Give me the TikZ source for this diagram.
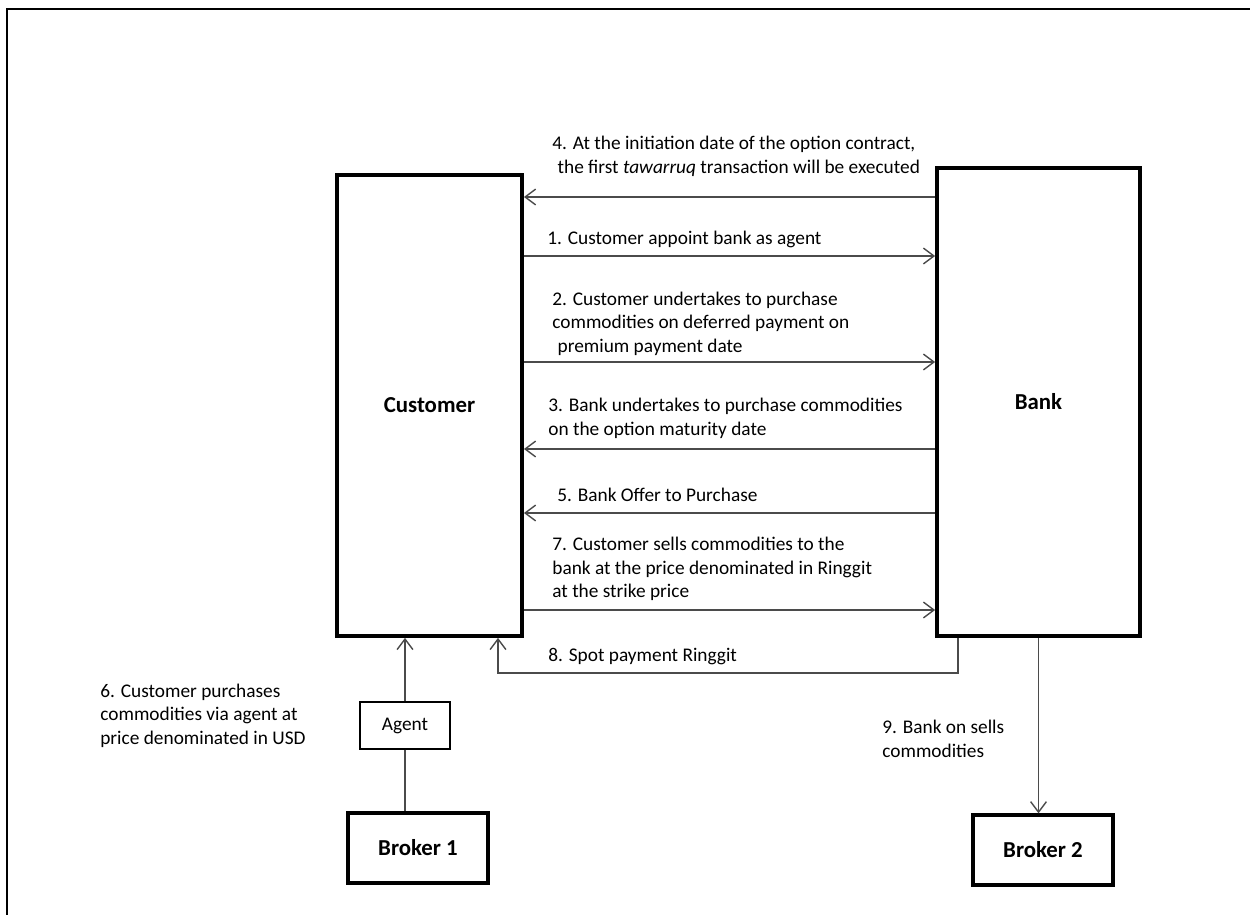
\documentclass[tikz,border=0pt]{standalone}
\usepackage{fontspec}
\setmainfont{Carlito}
\usetikzlibrary{arrows.meta}
\definecolor{flowgray}{RGB}{75, 75, 75}

\begin{document}
\begin{tikzpicture}[x=0.02cm, y=-0.02cm,
  party/.style={draw, line width=2.2pt, inner sep=0pt, font=\fontsize{13}{15}\selectfont\bfseries},
  flow/.style={draw=flowgray, line width=0.8pt, -{Straight Barb[length=6pt, width=9pt]}},
  msg/.style={anchor=west, align=left, inner sep=0pt, font=\fontsize{11}{13.4}\selectfont}]
\useasboundingbox (0, 0) rectangle (1250, 915);
\draw [line width=1.7pt] (7, 915) -- (7, 9) -- (1250, 9);
\node [party, minimum width=3.7cm, minimum height=9.22cm] (cust) at (429.5, 405.5) {Customer};
\node [party, minimum width=4.06cm, minimum height=9.36cm] (bank) at (1038.5, 402) {Bank};
\node [draw, line width=0.8pt, inner sep=0pt, minimum width=1.8cm, minimum height=0.94cm, font=\fontsize{11}{13}\selectfont] (agent) at (405, 725.5) {Agent};
\node [party, line width=1.9pt, minimum width=2.8cm, minimum height=1.4cm] (broker1) at (418, 848) {Broker 1};
\node [party, line width=1.9pt, minimum width=2.8cm, minimum height=1.4cm] (broker2) at (1043, 850) {Broker 2};
\foreach \y in {256, 362, 610}{\draw [flow] (cust.east |- 0, \y) -- (bank.west |- 0, \y);}
\foreach \y in {197, 449, 513}{\draw [flow] (bank.west |- 0, \y) -- (cust.east |- 0, \y);}
\coordinate (pay) at (498, 673);
\draw [flow] (bank.south -| 958, 0) |- (pay) -- (cust.south -| pay);
\draw [flow] (agent.north) -- (cust.south -| agent.north);
\draw [draw=flowgray, line width=0.8pt] (agent.south) -- (broker1.north -| agent.south);
\draw [flow] (bank.south) -- (broker2.north -| bank.south);
\node [msg] (t4) at (552, 156.5) {4. At the initiation date of the option contract,\\ \hspace{3pt}the first \textit{tawarruq} transaction will be executed};
\node [msg] (t1) at (547, 239) {1. Customer appoint bank as agent};
\node [msg] (t2) at (552, 323.5) {2. Customer undertakes to purchase\\commodities on deferred payment on\\ \hspace{3pt}premium payment date};
\node [msg] (t3) at (548, 418.5) {3. Bank undertakes to purchase commodities\\on the option maturity date};
\node [msg] (t5) at (557, 495) {5. Bank Offer to Purchase};
\node [msg] (t7) at (552, 569) {7. Customer sells commodities to the\\bank at the price denominated in Ringgit\\at the strike price};
\node [msg] (t8) at (548, 657) {8. Spot payment Ringgit};
\node [msg] (t6) at (100, 715.5) {6. Customer purchases\\commodities via agent at\\price denominated in USD};
\node [msg] (t9) at (882, 739) {9. Bank on sells\\commodities};
\end{tikzpicture}
\end{document}
